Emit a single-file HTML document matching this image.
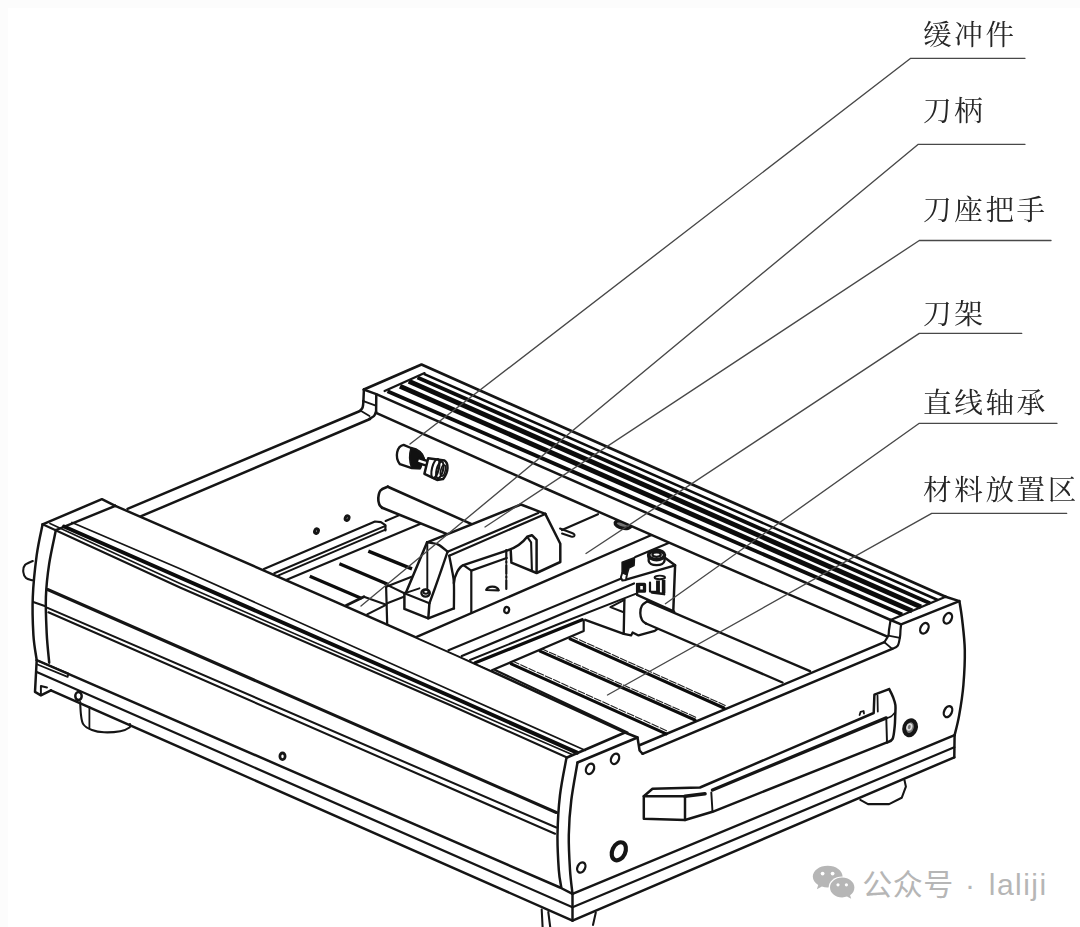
<!DOCTYPE html>
<html lang="zh"><head><meta charset="utf-8"><title>裁切机结构图</title>
<style>
html,body{margin:0;padding:0;background:#fff;}
body{width:1080px;height:927px;overflow:hidden;position:relative;font-family:"Liberation Serif","Noto Serif CJK SC",serif;}
#edgeL{position:absolute;left:0;top:0;width:8px;height:927px;background:#fcfcfc;}
#edgeT{position:absolute;left:0;top:0;width:1080px;height:8px;background:#fcfcfc;}
svg{position:absolute;left:0;top:0;filter:blur(0.35px);}
.lb{position:absolute;left:923px;font-size:28.6px;line-height:30px;letter-spacing:2.6px;color:#262626;white-space:nowrap;font-weight:400;filter:blur(0.3px);}
.wm{position:absolute;top:868px;font-family:"Liberation Sans","Noto Sans CJK SC",sans-serif;font-weight:400;font-size:30px;line-height:34px;color:#b6b6b6;white-space:nowrap;letter-spacing:0.5px;}
</style></head><body>
<div id="edgeL"></div><div id="edgeT"></div>
<svg width="1080" height="927" viewBox="0 0 1080 927" stroke-linecap="round" stroke-linejoin="round">
<path d="M42.6,524.3 L101.9,499.2 L115.3,505.9" stroke="#151515" stroke-width="2.484" fill="none" />
<path d="M115.3,505.9 L55.9,530.1" stroke="#151515" stroke-width="2.484" fill="none" />
<path d="M42.6,524.3 C41.6,529.4 38.3,543.1 36.7,555.2 C35.1,567.3 33.3,583.7 32.8,597.0 C32.2,610.3 32.8,624.5 33.4,635.0 C34.0,645.5 36.2,656.0 36.7,660.2" stroke="#151515" stroke-width="2.484" fill="none"/>
<path d="M55.9,530.1 C54.8,535.7 50.9,552.5 49.2,563.6 C47.5,574.8 46.3,585.4 45.9,597.0 C45.5,608.6 46.2,622.4 46.7,633.4 C47.2,644.4 48.8,657.8 49.2,662.7" stroke="#151515" stroke-width="2.484" fill="none"/>
<path d="M32.8,561.0 C31.5,561.7 26.6,563.2 25.0,565.0 C23.4,566.8 23.1,569.8 23.3,572.0 C23.5,574.2 24.5,576.6 26.0,578.0 C27.5,579.4 31.4,579.9 32.5,580.3" stroke="#151515" stroke-width="2.07" fill="none"/>
<path d="M33.2,602.0 L45.5,606.2" stroke="#151515" stroke-width="2.07" fill="none" />
<path d="M36.7,660.2 L35.0,691.9 L40.9,695.3 L50.9,690.3" stroke="#151515" stroke-width="2.484" fill="none" />
<path d="M40.9,695.3 L40.9,686.0 L47.0,687.5" stroke="#151515" stroke-width="1.9319999999999997" fill="none" />
<path d="M38.4,661.0 L68.5,673.5 L67.6,676.9 L37.5,664.5" stroke="#151515" stroke-width="1.7939999999999998" fill="none" />
<ellipse cx="78.5" cy="696.1" rx="3.2" ry="4" transform="rotate(0 78.5 696.1)" stroke="#151515" stroke-width="2.484" fill="none"/>
<path d="M80.2,702.0 C80.3,704.2 80.5,711.2 81.0,715.0 C81.5,718.8 81.7,722.0 83.5,724.5 C85.3,727.0 88.6,728.7 92.0,730.0 C95.4,731.3 99.3,732.1 104.0,732.3 C108.7,732.5 116.0,732.0 120.3,731.2 C124.5,730.4 127.9,728.7 129.5,727.5 C131.1,726.3 129.9,724.6 130.0,724.0" stroke="#151515" stroke-width="2.07" fill="none"/>
<path d="M89.4,707.0 L89.4,728.5" stroke="#151515" stroke-width="1.7939999999999998" fill="none" />
<path d="M115.3,505.9 L260.0,568.8 L335.0,601.7 L455.0,654.6 L540.0,693.5 L625.0,732.5" stroke="#151515" stroke-width="2.484" fill="none" />
<path d="M72.0,522.5 L180.0,568.8 L450.0,690.0 L585.0,750.3" stroke="#151515" stroke-width="1.7939999999999998" fill="none" />
<path d="M64.0,526.5 L180.0,577.5 L450.0,696.0 L577.0,752.6" stroke="#0c0c0c" stroke-width="4.002" fill="none" />
<path d="M42.6,524.3 L180.0,587.5 L450.0,705.0 L567.0,757.5" stroke="#151515" stroke-width="2.07" fill="none" />
<path d="M50.0,523.4 L180.0,583.6 L450.0,701.6 L572.0,754.6" stroke="#151515" stroke-width="1.656" fill="none" />
<path d="M47.6,589.5 L556.3,812.5" stroke="#151515" stroke-width="3.036" fill="none" />
<path d="M47.6,607.9 L556.3,827.5" stroke="#151515" stroke-width="2.07" fill="none" />
<path d="M48.4,612.3 L555.0,833.8" stroke="#151515" stroke-width="2.07" fill="none" />
<path d="M36.7,660.2 L560.0,887.5 L572.5,893.8" stroke="#151515" stroke-width="2.484" fill="none" />
<path d="M36.7,671.9 L572.5,907.3" stroke="#151515" stroke-width="2.2079999999999997" fill="none" />
<path d="M50.9,690.3 L572.5,920.6" stroke="#151515" stroke-width="2.484" fill="none" />
<ellipse cx="282.5" cy="756.3" rx="2.6" ry="3.3" transform="rotate(0 282.5 756.3)" stroke="#151515" stroke-width="2.76" fill="none"/>
<path d="M127.5,508.8 L360.0,411.0" stroke="#151515" stroke-width="2.484" fill="none" />
<path d="M141.2,516.2 L370.0,419.0" stroke="#151515" stroke-width="2.484" fill="none" />
<path d="M566.3,758.8 C565.2,764.8 561.5,782.3 560.0,795.0 C558.5,807.7 557.7,822.5 557.5,835.0 C557.3,847.5 558.2,861.2 558.8,870.0 C559.4,878.8 560.9,884.6 561.3,887.5" stroke="#151515" stroke-width="2.484" fill="none"/>
<path d="M577.5,762.5 C576.5,768.8 572.8,787.9 571.3,800.0 C569.8,812.1 569.0,823.3 568.8,835.0 C568.6,846.7 569.4,860.2 570.0,870.0 C570.6,879.8 572.1,889.8 572.5,893.8" stroke="#151515" stroke-width="2.484" fill="none"/>
<path d="M572.5,893.8 L572.5,920.6" stroke="#151515" stroke-width="2.484" fill="none" />
<path d="M567.0,757.5 L625.0,732.5 L637.5,737.5 L639.6,750.5 L642.5,753.8" stroke="#151515" stroke-width="2.484" fill="none" />
<path d="M577.5,762.5 L637.5,737.5" stroke="#151515" stroke-width="2.484" fill="none" />
<ellipse cx="590" cy="768.8" rx="3.8" ry="5.4" transform="rotate(25 590 768.8)" stroke="#151515" stroke-width="2.3459999999999996" fill="none"/>
<ellipse cx="615" cy="758.8" rx="3.8" ry="5.4" transform="rotate(25 615 758.8)" stroke="#151515" stroke-width="2.3459999999999996" fill="none"/>
<ellipse cx="581.3" cy="867.5" rx="3.8" ry="5.4" transform="rotate(25 581.3 867.5)" stroke="#151515" stroke-width="2.3459999999999996" fill="none"/>
<ellipse cx="618.8" cy="851.3" rx="6.5" ry="9.5" transform="rotate(25 618.8 851.3)" stroke="#151515" stroke-width="4.14" fill="none"/>
<path d="M640.0,745.0 L884.4,642.2" stroke="#151515" stroke-width="2.484" fill="none" />
<path d="M642.5,753.8 L892.2,648.9" stroke="#151515" stroke-width="2.484" fill="none" />
<path d="M572.5,893.8 L954.6,735.2" stroke="#151515" stroke-width="2.484" fill="none" />
<path d="M572.5,907.3 L954.3,747.3" stroke="#151515" stroke-width="2.2079999999999997" fill="none" />
<path d="M572.5,920.6 L954.3,757.3" stroke="#151515" stroke-width="2.484" fill="none" />
<path d="M541.7,909.5 L542.6,927.0" stroke="#151515" stroke-width="2.07" fill="none" />
<path d="M548.3,912.0 L550.2,927.0" stroke="#151515" stroke-width="2.07" fill="none" />
<path d="M595.8,912.5 L593.0,925.0" stroke="#151515" stroke-width="2.07" fill="none" />
<path d="M959.4,601.1 C959.9,604.2 961.3,611.9 962.2,620.0 C963.1,628.1 964.6,639.2 964.8,650.0 C965.0,660.8 964.3,674.1 963.4,685.0 C962.5,695.9 960.7,706.7 959.2,715.1 C957.7,723.5 955.4,731.9 954.6,735.2" stroke="#151515" stroke-width="2.484" fill="none"/>
<path d="M954.6,735.2 L954.3,757.3" stroke="#151515" stroke-width="2.484" fill="none" />
<ellipse cx="924.4" cy="628.3" rx="3.8" ry="5.6" transform="rotate(28 924.4 628.3)" stroke="#151515" stroke-width="2.3459999999999996" fill="none"/>
<ellipse cx="947.8" cy="618.3" rx="3.8" ry="5.6" transform="rotate(28 947.8 618.3)" stroke="#151515" stroke-width="2.3459999999999996" fill="none"/>
<ellipse cx="948" cy="711.6" rx="3.8" ry="5.8" transform="rotate(25 948 711.6)" stroke="#151515" stroke-width="2.3459999999999996" fill="none"/>
<ellipse cx="910.1" cy="727.7" rx="5.6" ry="7.6" transform="rotate(18 910.1 727.7)" stroke="#151515" stroke-width="4.14" fill="#777"/>
<ellipse cx="909.3" cy="727" rx="2.2" ry="3" transform="rotate(18 909.3 727)" stroke="#ddd" stroke-width="1.656" fill="none"/>
<path d="M904.5,780.3 L905.9,786.6 L901.7,797.8 L889.1,804.1 L868.0,804.1 L860.3,799.9" stroke="#151515" stroke-width="2.07" fill="none" />
<path d="M643.8,796.3 L685.0,796.3 L685.0,820.0 L643.8,818.8 L643.8,796.3" stroke="#151515" stroke-width="2.484" fill="none" />
<path d="M643.8,796.3 L652.5,788.8 L700.0,787.5 L873.7,713.0 L874.4,694.7 L889.1,689.1" stroke="#151515" stroke-width="2.484" fill="none" />
<path d="M889.1,689.1 C889.8,690.4 892.0,694.3 893.0,697.0 C894.0,699.7 895.0,702.0 895.4,705.2 C895.8,708.4 895.3,712.5 895.2,716.0 C895.1,719.5 895.1,722.5 894.7,726.3 C894.3,730.1 893.9,736.2 892.6,738.9 C891.3,741.6 887.9,741.8 887.0,742.4" stroke="#151515" stroke-width="2.484" fill="none"/>
<path d="M685.0,796.3 L705.0,793.8" stroke="#151515" stroke-width="3.5879999999999996" fill="none" />
<path d="M712.5,790.0 L886.3,717.9" stroke="#151515" stroke-width="3.312" fill="none" />
<path d="M886.3,718.5 L887.0,742.4" stroke="#151515" stroke-width="1.9319999999999997" fill="none" />
<path d="M886.3,718.5 C887.1,718.2 889.6,717.4 891.0,716.5 C892.4,715.6 893.9,713.6 894.5,713.0" stroke="#151515" stroke-width="1.656" fill="none"/>
<path d="M711.3,792.5 L712.5,811.8" stroke="#151515" stroke-width="1.9319999999999997" fill="none" />
<path d="M685.0,820.0 L712.5,811.8 L887.0,742.4" stroke="#151515" stroke-width="2.484" fill="none" />
<path d="M877.5,695.5 L877.8,711.5" stroke="#151515" stroke-width="1.7939999999999998" fill="none" />
<path d="M859.6,715.0 L860.6,711.8 L863.6,711.0 L864.0,713.5" stroke="#151515" stroke-width="1.7939999999999998" fill="none" />
<path d="M263.9,568.9 L375.0,521.5 L380.9,522.2 L385.4,525.2 L385.4,530.4" stroke="#151515" stroke-width="2.2079999999999997" fill="none" />
<path d="M274.3,573.3 L385.4,525.9" stroke="#151515" stroke-width="2.07" fill="none" />
<path d="M278.0,575.6 L385.4,529.6" stroke="#151515" stroke-width="2.07" fill="none" />
<path d="M286.1,580.0 L420.0,523.9" stroke="#151515" stroke-width="2.2079999999999997" fill="none" />
<path d="M385.6,521.0 L401.1,514.4" stroke="#151515" stroke-width="2.07" fill="none" />
<ellipse cx="316.5" cy="531.1" rx="1.8" ry="2.3" transform="rotate(20 316.5 531.1)" stroke="#151515" stroke-width="3.036" fill="none"/>
<ellipse cx="347.1" cy="518.1" rx="1.8" ry="2.3" transform="rotate(20 347.1 518.1)" stroke="#151515" stroke-width="3.036" fill="none"/>
<path d="M309.8,576.3 L361.7,598.5" stroke="#0c0c0c" stroke-width="3.312" fill="none" stroke-linecap="butt"/>
<path d="M339.4,563.7 L388.3,584.4" stroke="#0c0c0c" stroke-width="3.312" fill="none" stroke-linecap="butt"/>
<path d="M368.3,551.1 L412.0,568.9" stroke="#0c0c0c" stroke-width="3.312" fill="none" stroke-linecap="butt"/>
<path d="M346.1,605.6 L363.9,596.7" stroke="#151515" stroke-width="2.76" fill="none" />
<path d="M363.9,596.7 L385.6,604.4" stroke="#151515" stroke-width="2.07" fill="none" />
<path d="M367.2,614.4 L386.5,604.6" stroke="#151515" stroke-width="2.07" fill="none" />
<path d="M386.1,586.7 L387.2,624.4" stroke="#151515" stroke-width="2.2079999999999997" fill="none" />
<path d="M386.1,586.7 L411.7,576.7" stroke="#151515" stroke-width="2.07" fill="none" />
<path d="M387.2,603.3 L403.9,596.7" stroke="#151515" stroke-width="2.07" fill="none" />
<path d="M385.0,583.9 L404.4,593.3" stroke="#151515" stroke-width="2.07" fill="none" />
<path d="M387.8,486.7 L472.2,524.4 L447.8,534.4 L382.2,507.8 L378.5,500.0 L380.0,491.0 Z" stroke="none" fill="#fff"/>
<path d="M387.8,486.7 C386.6,487.3 382.1,488.6 380.5,490.5 C378.9,492.4 378.5,495.7 378.3,498.0 C378.1,500.3 378.7,502.9 379.3,504.5 C379.9,506.1 381.7,507.2 382.2,507.8" stroke="#151515" stroke-width="2.622" fill="none"/>
<path d="M387.8,486.7 L472.2,524.4" stroke="#151515" stroke-width="2.622" fill="none" />
<path d="M382.2,507.8 L447.8,534.4" stroke="#151515" stroke-width="2.622" fill="none" />
<path d="M403.6,444.9 C397,446 394.3,457 399.9,464.2 L411.8,468.2 L420,468.4 L423.9,458.6 C422,452 417,449.3 411,448 Z" stroke="#151515" stroke-width="2.3459999999999996" fill="#fff"/>
<path d="M411,448.3 C417,449.3 422,452 423.9,458.6 L420,468.4 L411.8,468.2 C409.3,462 409.3,454 411,448.3 Z" stroke="#151515" stroke-width="1.656" fill="#111"/>
<path d="M417.5,460.2 L428.5,463.9" stroke="#111" stroke-width="7.175999999999999" fill="none" stroke-linecap="butt"/>
<path d="M418.5,460.6 L428.5,463.9" stroke="#fff" stroke-width="2.2079999999999997" fill="none" stroke-linecap="butt"/>
<path d="M428.2,458.3 L444.5,460.5 C448.5,463 449,472 443,479.1 L437.1,479.9 L424.4,473.9 Z" stroke="#151515" stroke-width="2.484" fill="#fff"/>
<ellipse cx="435.4" cy="468.6" rx="3.4" ry="9.8" transform="rotate(14 435.4 468.6)" stroke="#151515" stroke-width="2.07" fill="none"/>
<ellipse cx="439.8" cy="470" rx="3.2" ry="8.6" transform="rotate(14 439.8 470)" stroke="#151515" stroke-width="2.07" fill="none"/>
<ellipse cx="443" cy="470.6" rx="2.2" ry="5.6" transform="rotate(14 443 470.6)" stroke="#151515" stroke-width="1.656" fill="none"/>
<path d="M495.0,670.0 L627.5,732.5" stroke="#151515" stroke-width="2.07" fill="none" />
<path d="M511.2,663.8 L666.2,733.8" stroke="#0c0c0c" stroke-width="3.036" fill="none" />
<path d="M512.5,661.1 L667.5,731.1" stroke="#222" stroke-width="1.1039999999999999" fill="none" stroke-dasharray="7 2"/>
<path d="M540.0,651.2 L695.0,720.0" stroke="#0c0c0c" stroke-width="3.036" fill="none" />
<path d="M541.2,648.6 L696.2,717.4" stroke="#222" stroke-width="1.1039999999999999" fill="none" stroke-dasharray="7 2"/>
<path d="M570.0,638.8 L724.0,708.0" stroke="#0c0c0c" stroke-width="3.036" fill="none" />
<path d="M571.2,636.1 L725.2,705.4" stroke="#222" stroke-width="1.1039999999999999" fill="none" stroke-dasharray="7 2"/>
<path d="M416.7,636.9 L471.3,607.6 L562.0,530.0 L598.0,514.2 L655.0,533.5 L674.0,565.7 L673.3,610.2 L654.8,630.9 L631.1,635.4 L623.7,633.9 L585.2,619.8 L583.7,631.0 L491.9,670.3 Z" stroke="none" fill="#fff"/>
<path d="M562.0,530.0 L598.0,514.2" stroke="#151515" stroke-width="2.2079999999999997" fill="none" />
<path d="M416.7,636.9 L655.0,533.5" stroke="#151515" stroke-width="2.3459999999999996" fill="none" />
<path d="M448.5,650.2 L623.7,577.6" stroke="#151515" stroke-width="2.2079999999999997" fill="none" />
<path d="M461.8,656.1 L634.0,583.5" stroke="#151515" stroke-width="2.2079999999999997" fill="none" />
<path d="M470.0,660.0 L560.0,623.5 L635.6,593.9" stroke="#151515" stroke-width="1.9319999999999997" fill="none" />
<path d="M475.2,662.8 L582.2,619.8" stroke="#0c0c0c" stroke-width="3.312" fill="none" />
<path d="M491.9,670.3 L583.7,631.0 L583.7,620.6" stroke="#151515" stroke-width="2.2079999999999997" fill="none" />
<path d="M585.2,619.8 L623.7,633.9 L624.4,599.8" stroke="#151515" stroke-width="2.3459999999999996" fill="none" />
<path d="M624.4,599.8 L610.4,607.2 L623.0,612.0" stroke="#151515" stroke-width="1.9319999999999997" fill="none" />
<path d="M623.7,633.9 L631.1,635.4 L632.6,632.4 L638.5,635.4 L654.8,630.9 L660.0,627.0" stroke="#151515" stroke-width="2.2079999999999997" fill="none" />
<path d="M635.3,556.9 L668.6,543.0" stroke="#151515" stroke-width="2.2079999999999997" fill="none" />
<path d="M664.9,557.8 L675.1,565.3 L673.3,610.7" stroke="#151515" stroke-width="2.484" fill="none" />
<path d="M627.8,579.2 L675.1,565.3" stroke="#151515" stroke-width="2.3459999999999996" fill="none" />
<path d="M622.3,562.5 L634.3,557.8 L633.9,565.3 L628.8,568 L626.9,574.5 L622.3,572.7 Z" stroke="#151515" stroke-width="1.9319999999999997" fill="#111"/>
<path d="M622.3,572.7 L626.9,574.5 L626,580 L622.3,580.5 L620.9,577.3 Z" stroke="#151515" stroke-width="1.9319999999999997" fill="#fff"/>
<path d="M648.7,555 L648.7,561 C650,566.5 663,566.5 664.5,561 L664.5,555 Z" stroke="#151515" stroke-width="2.3459999999999996" fill="#fff"/>
<ellipse cx="656.6" cy="555" rx="7.9" ry="4.6" transform="rotate(0 656.6 555)" stroke="#151515" stroke-width="3.5879999999999996" fill="#fff"/>
<ellipse cx="656.6" cy="554.6" rx="4.2" ry="2.2" transform="rotate(0 656.6 554.6)" stroke="#151515" stroke-width="2.2079999999999997" fill="none"/>
<path d="M637.1,583.8 L637.1,594.9 L674.2,611.6" stroke="#151515" stroke-width="2.3459999999999996" fill="none" />
<path d="M638.6,584.4 L644.5,584.4 L644.5,591.2 L638.6,591.2 L638.6,584.4" stroke="#151515" stroke-width="3.312" fill="none" />
<path d="M650.0,582.5 L650.0,591.5 L656.0,591.8" stroke="#151515" stroke-width="2.2079999999999997" fill="none" />
<path d="M658.0,580.5 L658.0,593.5" stroke="#151515" stroke-width="3.8639999999999994" fill="none" stroke-linecap="butt"/>
<path d="M663.6,580.0 L663.6,593.0" stroke="#151515" stroke-width="3.5879999999999996" fill="none" stroke-linecap="butt"/>
<path d="M652.0,592.5 L664.0,594.0" stroke="#151515" stroke-width="2.76" fill="none" />
<ellipse cx="659.8" cy="577.4" rx="5.2" ry="1.8" transform="rotate(0 659.8 577.4)" stroke="#151515" stroke-width="1.9319999999999997" fill="none"/>
<path d="M647.4,601.3 L810.0,671.2 L782.5,682.5 L646.0,623.5 L640.5,616.0 L641.5,607.0 Z" stroke="none" fill="#fff"/>
<path d="M647.4,601.3 C646.5,602.0 643.2,603.5 642.0,605.5 C640.8,607.5 640.3,610.6 640.3,613.0 C640.3,615.4 641.0,618.2 642.0,620.0 C643.0,621.8 645.3,622.9 646.0,623.5" stroke="#151515" stroke-width="2.3459999999999996" fill="none"/>
<path d="M647.4,601.3 L810.0,671.2" stroke="#151515" stroke-width="2.3459999999999996" fill="none" />
<path d="M646.0,623.5 L782.5,682.5" stroke="#151515" stroke-width="2.3459999999999996" fill="none" />
<ellipse cx="623" cy="524.6" rx="8" ry="3.6" transform="rotate(12 623 524.6)" stroke="#151515" stroke-width="3.312" fill="#777"/>
<path d="M560,528.5 L572,533 C576,534.5 575,537.5 571,536.5 L562,533.5" stroke="#151515" stroke-width="1.9319999999999997" fill="none"/>
<path d="M427.1,542.3 L520.9,504.5 L545.3,513.9 L560.3,543.8 L560.3,562.0 L536.6,573.0 L520.0,566.0 L506.7,558.0 L506.7,592.0 L471.3,608.4 L453.9,608.4 L428.3,618.3 L404.4,608.9 L404.4,593.3 Z" stroke="none" fill="#fff"/>
<path d="M427.1,542.3 L520.9,504.5 L545.3,513.9" stroke="#151515" stroke-width="2.484" fill="none" />
<path d="M427.1,542.3 C429.0,542.7 434.8,543.0 438.2,544.6 C441.6,546.2 446.0,550.5 447.6,551.7" stroke="#151515" stroke-width="2.3459999999999996" fill="none"/>
<path d="M447.6,551.7 L538.2,513.1" stroke="#151515" stroke-width="2.2079999999999997" fill="none" />
<path d="M449.2,555.7 L545.3,513.9" stroke="#151515" stroke-width="2.2079999999999997" fill="none" />
<path d="M427.1,542.3 L406.1,592.2 L404.4,593.3 L404.4,608.9 L428.3,618.3 L429.4,603.3" stroke="#151515" stroke-width="2.484" fill="none" />
<path d="M404.4,593.3 L419.4,588.3" stroke="#151515" stroke-width="1.9319999999999997" fill="none" />
<path d="M404.4,593.3 L429.4,603.3" stroke="#151515" stroke-width="2.07" fill="none" />
<path d="M429.4,603.3 C430.3,600.8 432.9,593.9 435.0,588.0 C437.1,582.1 439.9,574.0 442.0,568.0 C444.1,562.0 446.7,554.4 447.6,551.7" stroke="#151515" stroke-width="2.3459999999999996" fill="none"/>
<path d="M427.3,543.8 L427.3,588.5" stroke="#151515" stroke-width="1.9319999999999997" fill="none" />
<ellipse cx="425.6" cy="593" rx="4.2" ry="3.6" transform="rotate(0 425.6 593)" stroke="#151515" stroke-width="2.3459999999999996" fill="#fff"/>
<ellipse cx="425.9" cy="591.8" rx="2.5" ry="2" transform="rotate(0 425.9 591.8)" stroke="#151515" stroke-width="1.9319999999999997" fill="none"/>
<path d="M428.3,618.3 L453.9,608.4" stroke="#151515" stroke-width="2.484" fill="none" />
<path d="M449.2,555.7 C449.7,558.1 451.2,565.4 452.0,570.0 C452.8,574.6 453.6,576.8 453.9,583.2 C454.2,589.6 453.9,604.2 453.9,608.4" stroke="#151515" stroke-width="2.3459999999999996" fill="none"/>
<path d="M453.9,583.2 C454.5,575 459,567 463.4,565.1 L508.3,550.1 C518,547 524,541 527.2,536.8 L531.9,535.2 L536.6,539.9 L536.6,572.5" stroke="#151515" stroke-width="2.484" fill="none"/>
<path d="M545.3,513.9 L560.3,543.8 L560.3,562.0 L536.6,573.0 L511.4,562.7 L510.7,550.1" stroke="#151515" stroke-width="2.484" fill="none" />
<path d="M527.2,536.8 L531.1,542.3 L531.9,570.6" stroke="#151515" stroke-width="2.07" fill="none" />
<path d="M463.4,565.1 L471.3,570.6 L471.3,612.8" stroke="#151515" stroke-width="2.2079999999999997" fill="none" />
<path d="M471.3,570.6 L506.7,558.0" stroke="#151515" stroke-width="2.2079999999999997" fill="none" />
<path d="M506.3,550.0 L506.3,591.0" stroke="#151515" stroke-width="2.2079999999999997" fill="none" stroke-dasharray="9 2 2 2"/>
<path d="M486.2,590 C488,585.5 497,585.5 498.8,590.3 Z" stroke="#151515" stroke-width="2.2079999999999997" fill="none"/>
<ellipse cx="506.7" cy="610" rx="2.4" ry="3" transform="rotate(15 506.7 610)" stroke="#151515" stroke-width="2.2079999999999997" fill="none"/>
<path d="M363.9,389.6 L421.5,364.6 L945.6,596.7 L890.6,620.0 L886.2,636.2 L700.0,556.2 L550.0,490.5 L376.1,412.8 L376.3,394.2 Z" stroke="none" fill="#fff"/>
<path d="M363.9,389.6 L421.5,364.6 L945.6,596.7" stroke="#151515" stroke-width="2.76" fill="none" />
<path d="M363.9,389.6 L376.3,394.2 L890.6,620.0" stroke="#151515" stroke-width="2.484" fill="none" />
<path d="M363.9,389.6 L363.4,401.1" stroke="#151515" stroke-width="2.484" fill="none" />
<path d="M363.4,401.1 C363.3,402.2 363.2,405.9 362.6,407.5 C362.0,409.1 360.4,410.2 360.0,410.8" stroke="#151515" stroke-width="2.484" fill="none"/>
<path d="M363.4,401.1 L375.8,405.6" stroke="#151515" stroke-width="1.9319999999999997" fill="none" />
<path d="M360.3,410.6 L369.5,416.0" stroke="#151515" stroke-width="1.7939999999999998" fill="none" />
<path d="M376.3,394.2 L376.1,411.5" stroke="#151515" stroke-width="2.484" fill="none" />
<path d="M376.1,411.5 C375.8,412.2 375.1,414.8 374.0,416.0 C372.9,417.2 370.2,418.3 369.5,418.8" stroke="#151515" stroke-width="2.484" fill="none"/>
<path d="M376.1,412.8 L550.0,490.5 L700.0,556.2 L886.2,636.2" stroke="#151515" stroke-width="2.484" fill="none" />
<path d="M423.8,373.8 L937.8,600.0" stroke="#0c0c0c" stroke-width="2.484" fill="none" stroke-linecap="butt"/>
<path d="M417.5,377.5 L930.0,603.3" stroke="#0c0c0c" stroke-width="3.8639999999999994" fill="none" stroke-linecap="butt"/>
<path d="M408.8,381.2 L921.0,606.9" stroke="#0c0c0c" stroke-width="4.968" fill="none" stroke-linecap="butt"/>
<path d="M400.0,386.2 L912.2,611.0" stroke="#0c0c0c" stroke-width="4.968" fill="none" stroke-linecap="butt"/>
<path d="M387.5,391.2 L902.2,614.6" stroke="#0c0c0c" stroke-width="3.8639999999999994" fill="none" stroke-linecap="butt"/>
<path d="M424.6,373.1 L384.6,391.1" stroke="#151515" stroke-width="2.2079999999999997" fill="none" />
<path d="M945.6,596.7 L959.4,601.1 L901.1,624.4 L890.6,620.0" stroke="#151515" stroke-width="2.484" fill="none" />
<path d="M890.6,620.0 C890.3,621.7 889.4,627.4 889.0,630.0 C888.6,632.6 889.1,633.6 888.3,635.6 C887.5,637.6 885.0,641.1 884.4,642.2" stroke="#151515" stroke-width="2.2079999999999997" fill="none"/>
<path d="M901.1,624.4 C901.0,625.3 900.7,628.0 900.5,630.0 C900.3,632.0 900.5,634.1 900.0,636.7 C899.5,639.3 899.1,643.6 897.8,645.6 C896.5,647.6 893.1,648.4 892.2,648.9" stroke="#151515" stroke-width="2.2079999999999997" fill="none"/>
<path d="M888.3,635.6 L900.0,637.8" stroke="#151515" stroke-width="1.7939999999999998" fill="none" />
<path d="M884.4,642.2 L892.2,648.9" stroke="#151515" stroke-width="1.7939999999999998" fill="none" />
<path d="M945.6,596.7 L890.6,620.0" stroke="#151515" stroke-width="2.2079999999999997" fill="none" />
<path d="M1025.0,58.3 L910.7,58.3 L410.0,444.0" stroke="#484848" stroke-width="1.35" fill="none" />
<path d="M1025.0,144.3 L918.3,144.3 L361.0,606.0" stroke="#484848" stroke-width="1.35" fill="none" />
<path d="M1051.0,240.5 L919.3,240.5 L485.0,527.0" stroke="#484848" stroke-width="1.35" fill="none" />
<path d="M1021.7,333.4 L919.3,333.4 L586.0,553.5" stroke="#484848" stroke-width="1.35" fill="none" />
<path d="M1057.0,423.3 L919.3,423.3 L665.4,603.7" stroke="#484848" stroke-width="1.35" fill="none" />
<path d="M1066.7,513.3 L931.7,513.3 L607.5,695.0" stroke="#484848" stroke-width="1.35" fill="none" />
<g fill="#b6b6b6" stroke="none"><path d="M827.7,865.7 C819.4,865.7 812.8,870.6 812.8,876.6 C812.8,880 814.9,883 818.2,885 L816.9,889.3 L821.9,886.6 C823.7,887.2 825.7,887.5 827.7,887.5 C836,887.5 842.6,882.6 842.6,876.6 C842.6,870.6 836,865.7 827.7,865.7 Z"/><ellipse cx="842.2" cy="887.6" rx="13.6" ry="11.2" fill="#fff"/><path d="M842.2,877.4 C835.4,877.4 830,881.9 830,887.4 C830,892.9 835.4,897.4 842.2,897.4 C843.9,897.4 845.5,897.1 847,896.6 L851.2,898.8 L850.1,895.2 C852.8,893.4 854.4,890.6 854.4,887.4 C854.4,881.9 849,877.4 842.2,877.4 Z"/><g fill="#fff"><circle cx="822.6" cy="873.6" r="1.9"/><circle cx="832.6" cy="873.6" r="1.9"/><circle cx="838" cy="884.8" r="1.6"/><circle cx="846.4" cy="884.8" r="1.6"/></g></g>
</svg>
<div class="lb" style="top:21px">缓冲件</div>
<div class="lb" style="top:97px">刀柄</div>
<div class="lb" style="top:196px">刀座把手</div>
<div class="lb" style="top:300px">刀架</div>
<div class="lb" style="top:389px">直线轴承</div>
<div class="lb" style="top:476px">材料放置区</div>
<div class="wm" style="left:862.3px">公众号</div><div class="wm" style="left:965px">·</div><div class="wm" style="left:988.8px;letter-spacing:1.45px">laliji</div>
</body></html>
